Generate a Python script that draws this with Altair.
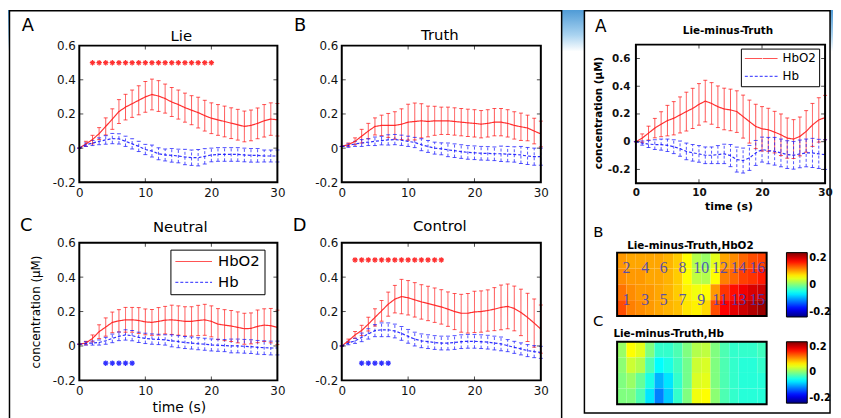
import altair as alt
import pandas as pd

# ---------------------------------------------------------------- data
T = list(range(31))                       # time (s)
SERIES = ["HbO2", "Hb"]

lie_hbo2 = [0.0, 0.025, 0.05, 0.085, 0.127, 0.17, 0.214, 0.24, 0.26, 0.28, 0.30, 0.314, 0.305, 0.29, 0.27,
            0.255, 0.237, 0.222, 0.208, 0.19, 0.175, 0.165, 0.156, 0.146, 0.137, 0.127, 0.133, 0.145, 0.16, 0.17, 0.166]
lie_hbo2_sd = [0, 0.015, 0.025, 0.035, 0.05, 0.06, 0.07, 0.075, 0.08, 0.085, 0.09, 0.09, 0.09, 0.085, 0.085,
               0.085, 0.085, 0.085, 0.09, 0.09, 0.09, 0.09, 0.09, 0.09, 0.09, 0.09, 0.09, 0.09, 0.095, 0.095, 0.095]
lie_hb = [0.0, 0.02, 0.03, 0.04, 0.048, 0.056, 0.054, 0.04, 0.025, 0.01, -0.008, -0.017, -0.033, -0.04, -0.042,
          -0.046, -0.052, -0.056, -0.056, -0.048, -0.04, -0.037, -0.037, -0.037, -0.037, -0.04, -0.042, -0.042, -0.046, -0.046, -0.046]
lie_hb_sd = [0, 0.01, 0.015, 0.02, 0.025, 0.03, 0.03, 0.03, 0.03, 0.03, 0.03, 0.035, 0.035, 0.035, 0.04,
             0.04, 0.045, 0.045, 0.048, 0.045, 0.04, 0.04, 0.04, 0.04, 0.04, 0.04, 0.04, 0.04, 0.035, 0.035, 0.035]

truth_hbo2 = [0.01, 0.02, 0.04, 0.07, 0.10, 0.127, 0.133, 0.133, 0.133, 0.14, 0.152, 0.156, 0.16, 0.156, 0.16,
              0.16, 0.16, 0.156, 0.152, 0.148, 0.145, 0.14, 0.145, 0.152, 0.152, 0.145, 0.133, 0.125, 0.118, 0.10, 0.083]
truth_hbo2_sd = [0, 0.01, 0.02, 0.04, 0.045, 0.05, 0.06, 0.07, 0.08, 0.09, 0.105, 0.108, 0.1, 0.09, 0.085,
                 0.08, 0.08, 0.08, 0.08, 0.08, 0.08, 0.08, 0.08, 0.08, 0.08, 0.08, 0.08, 0.08, 0.075, 0.075, 0.075]
truth_hb = [0.01, 0.015, 0.025, 0.03, 0.035, 0.04, 0.044, 0.048, 0.05, 0.046, 0.04, 0.033, 0.02, 0.01, 0.0,
            -0.004, -0.01, -0.015, -0.02, -0.025, -0.027, -0.03, -0.031, -0.033, -0.033, -0.035, -0.037, -0.04, -0.046, -0.05, -0.05]
truth_hb_sd = [0, 0.01, 0.015, 0.02, 0.02, 0.025, 0.025, 0.03, 0.03, 0.03, 0.03, 0.03, 0.035, 0.035, 0.035,
               0.035, 0.04, 0.04, 0.04, 0.04, 0.04, 0.04, 0.04, 0.04, 0.045, 0.045, 0.045, 0.05, 0.05, 0.05, 0.05]

neutral_hbo2 = [0.01, 0.017, 0.044, 0.083, 0.11, 0.137, 0.146, 0.152, 0.152, 0.148, 0.14, 0.137, 0.143, 0.15, 0.152,
                0.148, 0.143, 0.143, 0.148, 0.152, 0.143, 0.127, 0.121, 0.116, 0.108, 0.10, 0.102, 0.114, 0.121, 0.118, 0.108]
neutral_hbo2_sd = [0, 0.01, 0.02, 0.04, 0.053, 0.06, 0.065, 0.072, 0.072, 0.075, 0.075, 0.075, 0.08, 0.08, 0.085,
                   0.085, 0.085, 0.085, 0.088, 0.09, 0.09, 0.09, 0.09, 0.09, 0.09, 0.09, 0.09, 0.095, 0.095, 0.1, 0.1]
neutral_hb = [0.01, 0.015, 0.017, 0.02, 0.03, 0.044, 0.056, 0.064, 0.06, 0.05, 0.044, 0.04, 0.038, 0.035, 0.03,
              0.025, 0.02, 0.017, 0.013, 0.01, 0.006, 0.004, 0.002, 0.0, 0.0, -0.002, -0.004, -0.008, -0.01, -0.012, -0.012]
neutral_hb_sd = [0, 0.01, 0.012, 0.015, 0.02, 0.025, 0.025, 0.03, 0.03, 0.03, 0.03, 0.03, 0.03, 0.03, 0.035,
                 0.035, 0.035, 0.035, 0.035, 0.035, 0.035, 0.035, 0.035, 0.04, 0.04, 0.04, 0.04, 0.04, 0.04, 0.04, 0.04]

control_hbo2 = [0.0, 0.03, 0.064, 0.09, 0.127, 0.166, 0.204, 0.243, 0.272, 0.287, 0.28, 0.268, 0.256, 0.247, 0.237,
                0.227, 0.214, 0.2, 0.19, 0.19, 0.198, 0.2, 0.206, 0.214, 0.224, 0.23, 0.218, 0.195, 0.166, 0.133, 0.098]
control_hbo2_sd = [0, 0.01, 0.02, 0.03, 0.04, 0.05, 0.06, 0.07, 0.08, 0.1, 0.1, 0.1, 0.1, 0.1, 0.1,
                   0.1, 0.1, 0.105, 0.11, 0.115, 0.12, 0.12, 0.12, 0.125, 0.13, 0.13, 0.13, 0.135, 0.14, 0.14, 0.14]
control_hb = [0.0, 0.017, 0.03, 0.05, 0.07, 0.089, 0.094, 0.094, 0.087, 0.073, 0.056, 0.04, 0.03, 0.025, 0.02,
              0.017, 0.017, 0.02, 0.025, 0.027, 0.027, 0.025, 0.022, 0.017, 0.012, 0.002, -0.008, -0.017, -0.027, -0.033, -0.037]
control_hb_sd = [0, 0.01, 0.015, 0.025, 0.03, 0.035, 0.04, 0.04, 0.04, 0.04, 0.04, 0.04, 0.04, 0.04, 0.04,
                 0.04, 0.04, 0.04, 0.04, 0.04, 0.04, 0.04, 0.04, 0.04, 0.04, 0.035, 0.035, 0.035, 0.035, 0.035, 0.035]

diff_hbo2 = [0.0, 0.026, 0.062, 0.098, 0.126, 0.152, 0.169, 0.193, 0.217, 0.24, 0.269, 0.293, 0.276, 0.252, 0.236,
             0.229, 0.217, 0.181, 0.145, 0.11, 0.093, 0.086, 0.069, 0.05, 0.026, 0.019, 0.038, 0.074, 0.121, 0.157, 0.174]
diff_hbo2_sd = [0, 0.03, 0.05, 0.07, 0.09, 0.11, 0.12, 0.13, 0.14, 0.145, 0.15, 0.15, 0.15, 0.15, 0.15,
                0.15, 0.15, 0.155, 0.155, 0.16, 0.16, 0.155, 0.15, 0.15, 0.145, 0.14, 0.14, 0.15, 0.155, 0.16, 0.16]
diff_hb = [0.0, -0.01, -0.017, -0.021, -0.021, -0.026, -0.036, -0.05, -0.07, -0.08, -0.088, -0.098, -0.098, -0.093, -0.088,
           -0.1, -0.129, -0.136, -0.117, -0.081, -0.057, -0.064, -0.069, -0.081, -0.093, -0.098, -0.088, -0.081, -0.081, -0.088, -0.093]
diff_hb_sd = [0, 0.015, 0.025, 0.035, 0.04, 0.045, 0.05, 0.055, 0.06, 0.06, 0.06, 0.06, 0.06, 0.065, 0.07,
              0.08, 0.09, 0.09, 0.09, 0.09, 0.09, 0.095, 0.1, 0.1, 0.1, 0.1, 0.1, 0.1, 0.105, 0.105, 0.107]

# significance markers (time points) and the level they are drawn at
lie_sig_hbo2 = list(range(2, 21))
neutral_sig_hb = [4, 5, 6, 7, 8]
control_sig_hbo2 = list(range(2, 16))
control_sig_hb = [3, 4, 5, 6, 7]
SIG_LEVEL = {"HbO2": 0.5, "Hb": -0.1}

# channel maps (4 rows x 16 columns, top row first), Lie-minus-Truth
map_hbo2 = [
    [0.09, 0.085, 0.085, 0.085, 0.085, 0.08, 0.07, 0.05, 0.02, 0.01, 0.04, 0.085, 0.095, 0.11, 0.12, 0.125],
    [0.095, 0.09, 0.09, 0.085, 0.085, 0.08, 0.07, 0.05, 0.025, 0.02, 0.05, 0.1, 0.11, 0.125, 0.13, 0.14],
    [0.105, 0.095, 0.09, 0.09, 0.085, 0.08, 0.07, 0.055, 0.045, 0.05, 0.09, 0.13, 0.145, 0.155, 0.165, 0.17],
    [0.12, 0.1, 0.095, 0.09, 0.085, 0.08, 0.075, 0.06, 0.055, 0.065, 0.12, 0.15, 0.16, 0.17, 0.18, 0.19],
]
map_hb = [
    [0.01, 0.05, 0.04, 0.0, -0.03, -0.03, -0.02, 0.0, 0.02, 0.025, 0.0, -0.02, -0.03, -0.03, -0.03, -0.025],
    [0.005, 0.03, 0.02, -0.02, -0.05, -0.04, -0.025, -0.005, 0.03, 0.035, 0.0, -0.02, -0.03, -0.035, -0.035, -0.03],
    [0.0, 0.01, -0.01, -0.04, -0.08, -0.06, -0.03, -0.005, 0.035, 0.04, 0.0, -0.02, -0.03, -0.035, -0.035, -0.035],
    [0.0, 0.0, -0.02, -0.06, -0.1, -0.07, -0.03, 0.0, 0.045, 0.05, 0.005, -0.02, -0.03, -0.035, -0.035, -0.035],
]
channels_top = [2, 4, 6, 8, 10, 12, 14, 16]
channels_bottom = [1, 3, 5, 7, 9, 11, 13, 15]

X_TICKS = [0, 10, 20, 30]
Y_TICKS = [-0.2, 0, 0.2, 0.4, 0.6]

# ---------------------------------------------------------------- style
W, H = 833, 410
SANS = "DejaVu Sans"
SERIF = "Liberation Serif"
RED = "#ff1a1a"
BLUE = "#1a1aff"
ASTERISK = "M-1,0L1,0M0,-1L0,1M-0.7,-0.7L0.7,0.7M-0.7,0.7L0.7,-0.7"
YLABEL = "datum.value == 0 ? '0' : replace(format(datum.value, '.1f'), '\u2212', '-')"
JET_DOMAIN = [-0.2, -0.15, -0.05, 0.05, 0.15, 0.2]
JET_RANGE = ["#00007f", "#0000ff", "#00ffff", "#ffff00", "#ff0000", "#7f0000"]
ONE = pd.DataFrame({"k": [0]})


def curves(hbo2, hbo2_sd, hb, hb_sd):
    rows = []
    for name, vals, sds in ((SERIES[0], hbo2, hbo2_sd), (SERIES[1], hb, hb_sd)):
        for t, m, e in zip(T, vals, sds):
            rows.append({"t": t, "series": name, "v": m, "lo": m - e, "hi": m + e})
    return pd.DataFrame(rows)


def panel(df, xr, yr, ydom, sig=(), legend=None, font=SANS, fsize=12, fweight="normal",
          xpad=5, ypad=4):
    xs = alt.Scale(domain=[0, 30], range=list(xr), nice=False, zero=False)
    ys = alt.Scale(domain=list(ydom), range=[yr[1], yr[0]], nice=False, zero=False)
    cs = alt.Scale(domain=SERIES, range=[RED, BLUE])
    ds = alt.Scale(domain=SERIES, range=[[1, 0], [3, 2]])
    common = dict(labelFont=font, labelFontSize=fsize, labelFontWeight=fweight, labelColor="#111111",
                  ticks=False, domain=False, grid=False, title=None, labelFlush=False,
                  labelOverlap=False, zindex=2)
    xaxis = alt.Axis(orient="bottom", offset=yr[1] - H, values=X_TICKS, labelPadding=xpad, **common)
    yaxis = alt.Axis(orient="left", offset=-xr[0], values=Y_TICKS, labelPadding=ypad,
                     labelExpr=YLABEL, **common)

    def X(f):
        return alt.X(f, type="quantitative", scale=xs, axis=xaxis)

    def Y(f):
        return alt.Y(f, type="quantitative", scale=ys, axis=yaxis)

    col = alt.Color("series:N", scale=cs, legend=legend)
    dash = alt.StrokeDash("series:N", scale=ds, legend=legend)
    layers = [
        alt.Chart(df).mark_rule(strokeWidth=1, opacity=0.75).encode(
            x=X("t"), y=Y("lo"), y2="hi:Q", color=col, strokeDash=dash),
        alt.Chart(df).mark_tick(orient="horizontal", size=4, thickness=1, opacity=0.75).encode(
            x=X("t"), y=Y("lo"), color=col),
        alt.Chart(df).mark_tick(orient="horizontal", size=4, thickness=1, opacity=0.75).encode(
            x=X("t"), y=Y("hi"), color=col),
        alt.Chart(df).mark_line(strokeWidth=1.2, opacity=0.9).encode(
            x=X("t"), y=Y("v"), color=col, strokeDash=dash),
    ]
    for name, times in sig:
        sdf = pd.DataFrame({"t": times, "series": name, "lvl": SIG_LEVEL[name]})
        layers.append(alt.Chart(sdf).mark_point(shape=ASTERISK, size=30, strokeWidth=1.2, filled=False,
                                                opacity=0.9).encode(x=X("t"), y=Y("lvl"), color=col))
    fdf = pd.DataFrame({"x0": [0], "x1": [30], "y0": [ydom[0]], "y1": [ydom[1]]})
    layers.append(alt.Chart(fdf).mark_rect(fillOpacity=0, stroke="#000000", strokeOpacity=1,
                                           strokeWidth=2).encode(
        x=X("x0"), x2="x1:Q", y=Y("y0"), y2="y1:Q"))
    ytk = pd.DataFrame({"v": [v for v in Y_TICKS if ydom[0] < v < ydom[1]]})
    xtk = pd.DataFrame({"v": X_TICKS[1:-1]})
    for edge, off in ((0, 2), (30, -2)):
        layers.append(alt.Chart(ytk).mark_tick(orient="horizontal", size=4, thickness=1, color="black",
                                               xOffset=off).transform_calculate(e=str(edge)).encode(
            x=X("e"), y=Y("v")))
    for edge, off in ((ydom[0], -2), (ydom[1], 2)):
        layers.append(alt.Chart(xtk).mark_tick(orient="vertical", size=4, thickness=1, color="black",
                                               yOffset=off).transform_calculate(e=str(edge)).encode(
            x=X("v"), y=Y("e")))
    return alt.layer(*layers)


def heatmap(grid, xr, yr, leg_xy, leg_len, labels=False):
    rows = []
    for r, line in enumerate(grid):
        for c, v in enumerate(line):
            rows.append({"c0": c, "c1": c + 1, "r0": r, "r1": r + 1, "v": v})
    hdf = pd.DataFrame(rows)
    ncol, nrow = len(grid[0]), len(grid)
    xs = alt.Scale(domain=[0, ncol], range=list(xr), nice=False, zero=False)
    ys = alt.Scale(domain=[0, nrow], range=list(yr), nice=False, zero=False)
    jet = alt.Scale(domain=JET_DOMAIN, range=JET_RANGE, clamp=True, interpolate="rgb")
    leg = alt.Legend(orient="none", legendX=leg_xy[0], legendY=leg_xy[1], direction="vertical",
                     gradientLength=leg_len, gradientThickness=21, title=None, values=[-0.2, 0, 0.2],
                     labelExpr=YLABEL, padding=0, gradientStrokeColor="black", gradientStrokeWidth=1,
                     labelFont=SANS, labelFontSize=10, labelFontWeight="bold", labelOffset=2,
                     labelColor="black", labelBaseline="middle", type="gradient")
    layers = [
        alt.Chart(hdf).mark_rect().encode(
            x=alt.X("c0:Q", scale=xs, axis=None), x2="c1:Q",
            y=alt.Y("r0:Q", scale=ys, axis=None), y2="r1:Q",
            color=alt.Color("v:Q", scale=jet, legend=leg)),
    ]
    if labels:
        chs = channels_top + channels_bottom
        tdf = pd.DataFrame({"ch": chs})
        tdf["cx"] = [ch - 1 if ch % 2 == 0 else ch for ch in chs]
        tdf["cy"] = [1 if ch % 2 == 0 else 3 for ch in chs]
        layers.append(alt.Chart(tdf).mark_text(font=SERIF, fontSize=16, color="#4040c0", opacity=0.85).encode(
            x=alt.X("cx:Q", scale=xs, axis=None), y=alt.Y("cy:Q", scale=ys, axis=None),
            text=alt.Text("ch:Q", format="d")))
    fdf = pd.DataFrame({"x0": [0], "x1": [ncol], "y0": [0], "y1": [nrow]})
    layers.append(alt.Chart(fdf).mark_rect(fillOpacity=0, stroke="#000000", strokeWidth=2).encode(
        x=alt.X("x0:Q", scale=xs, axis=None), x2="x1:Q", y=alt.Y("y0:Q", scale=ys, axis=None), y2="y1:Q"))
    return alt.layer(*layers)


def label(s, x, y, size, weight="normal", angle=0, font=SANS):
    return alt.Chart(ONE).mark_text(text=s, font=font, fontSize=size, fontWeight=weight, angle=angle,
                                    align="center", baseline="middle", color="black").encode(
        x=alt.value(x), y=alt.value(y))


# ---------------------------------------------------------------- decoration
banner = alt.Chart(ONE).mark_rect(color=alt.Gradient(
    gradient="linear", x1=0, x2=0, y1=0, y2=1,
    stops=[alt.GradientStop(color="#4f9bd6", offset=0), alt.GradientStop(color="#a9d3f0", offset=0.6),
           alt.GradientStop(color="#ffffff", offset=1)])).encode(
    x=alt.value(0), x2=alt.value(W), y=alt.value(0), y2=alt.value(42))
left_box = alt.Chart(ONE).mark_rect(fill="white", stroke="black", strokeWidth=1.5).encode(
    x=alt.value(1.5), x2=alt.value(559), y=alt.value(0.8), y2=alt.value(420))
right_box = alt.Chart(ONE).mark_rect(fill="white", stroke="black", strokeWidth=1.5).encode(
    x=alt.value(582), x2=alt.value(830), y=alt.value(0.8), y2=alt.value(407))

legC = alt.Legend(orient="none", legendX=164, legendY=242, title=None, symbolType="stroke", symbolSize=1369,
                  symbolStrokeWidth=1.2, labelFont=SANS, labelFontSize=15, labelColor="black", labelOffset=5,
                  strokeColor="black", fillColor="white", padding=4, rowPadding=5, clipHeight=16)
legR = alt.Legend(orient="none", legendX=740, legendY=39, title=None, symbolType="stroke", symbolSize=1089,
                  symbolStrokeWidth=1.2, labelFont=SANS, labelFontSize=12, labelColor="black", labelOffset=4,
                  strokeColor="black", fillColor="white", padding=3, rowPadding=4, clipHeight=14)

pA = panel(curves(lie_hbo2, lie_hbo2_sd, lie_hb, lie_hb_sd), (72, 272), (36, 174), (-0.2, 0.6),
           sig=[("HbO2", lie_sig_hbo2)])
pB = panel(curves(truth_hbo2, truth_hbo2_sd, truth_hb, truth_hb_sd), (337, 538), (36, 174), (-0.2, 0.6))
pC = panel(curves(neutral_hbo2, neutral_hbo2_sd, neutral_hb, neutral_hb_sd), (72, 272), (235, 374), (-0.2, 0.6),
           sig=[("Hb", neutral_sig_hb)], legend=legC)
pD = panel(curves(control_hbo2, control_hbo2_sd, control_hb, control_hb_sd), (337, 538), (235, 374), (-0.2, 0.6),
           sig=[("HbO2", control_sig_hbo2), ("Hb", control_sig_hb)])
pR = panel(curves(diff_hbo2, diff_hbo2_sd, diff_hb, diff_hb_sd), (634, 825), (35, 175), (-0.3, 0.7),
           legend=legR, fsize=10.5, fweight="bold", xpad=4, ypad=6)
hB = heatmap(map_hbo2, (615, 766), (245, 309), (786, 245), 65, labels=True)
hC = heatmap(map_hb, (615, 766), (335, 398), (786, 335), 62)

texts = [
    label("A", 20, 16.5, 18), label("Lie", 175, 26, 15),
    label("B", 295, 16.5, 18), label("Truth", 436, 25, 15),
    label("C", 18.5, 218, 18), label("Neutral", 174, 219, 15),
    label("D", 294.5, 218.5, 18), label("Control", 436, 218, 15),
    label("concentration (\u03bcM)", 28, 305, 12, angle=270),
    label("time (s)", 173, 402, 14),
    label("A", 598.5, 17.5, 17), label("Lie-minus-Truth", 727, 21, 10.5, weight="bold"),
    label("concentration (\u03bcM)", 597, 104, 10.5, weight="bold", angle=270),
    label("time (s)", 728, 199, 11, weight="bold"),
    label("B", 596, 224, 15), label("Lie-minus-Truth,HbO2", 689, 238, 10.5, weight="bold"),
    label("C", 596, 314.5, 15), label("Lie-minus-Truth,Hb", 667, 327, 10.5, weight="bold"),
]

chart = alt.layer(banner, left_box, right_box, pA, pB, pC, pD, pR, hB, hC, *texts).resolve_scale(
    x="independent", y="independent", color="independent", strokeDash="independent"
).properties(
    width=W, height=H, padding=0, autosize=alt.AutoSizeParams(type="none"), background="white"
).configure_view(strokeWidth=0)

chart.save("out.html", embed_options={"renderer": "svg", "actions": False})
